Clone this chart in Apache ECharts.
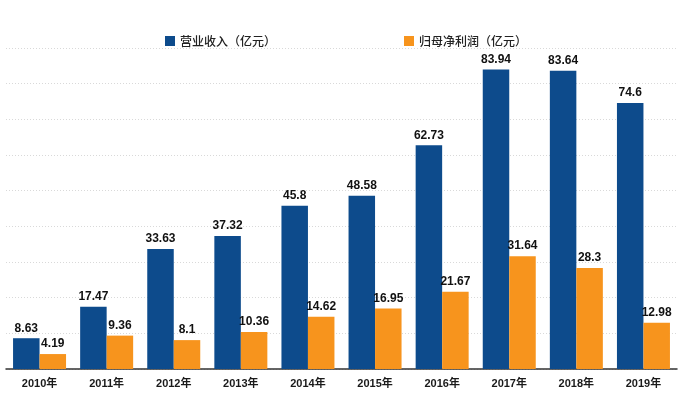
<!DOCTYPE html>
<html><head><meta charset="utf-8">
<script src="https://cdn.jsdelivr.net/npm/echarts@6/dist/echarts.min.js"></script>
<style>html,body{margin:0;padding:0;background:#fff}#c{width:688px;height:394px}</style>
</head><body><div id="c"></div>
<script>
var categories = ['2010年','2011年','2012年','2013年','2014年','2015年','2016年','2017年','2018年','2019年'];
var revenue = [8.63,17.47,33.63,37.32,45.8,48.58,62.73,83.94,83.64,74.6];
var netProfit = [4.19,9.36,8.1,10.36,14.62,16.95,21.67,31.64,28.3,12.98];
var seriesNames = ['营业收入（亿元）','归母净利润（亿元）'];
var fontStack = 'Liberation Sans, "Noto Sans CJK SC", sans-serif';
var chart = echarts.init(document.getElementById('c'));
var labelStyle = {show:true, position:'top', distance:4, color:'#111', fontWeight:'bold', fontSize:12, fontFamily:fontStack};
chart.setOption({
  animation:false,
  legend:{
    left:160, top:30, itemWidth:10, itemHeight:10, itemGap:128,
    icon:'rect',
    textStyle:{fontSize:12, color:'#222', fontWeight:500, fontFamily:'"Noto Sans CJK SC", sans-serif'},
    data:seriesNames
  },
  grid:{left:6, right:11, top:48, bottom:25, containLabel:false},
  xAxis:{
    type:'category', data:categories,
    axisLine:{lineStyle:{color:'#333', width:1.5}},
    axisTick:{show:false},
    axisLabel:{color:'#1a1a1a', fontWeight:'bold', fontSize:11, margin:9, fontFamily:fontStack}
  },
  yAxis:{
    type:'value', min:0, max:90, interval:10,
    axisLine:{show:false}, axisTick:{show:false}, axisLabel:{show:false},
    splitLine:{lineStyle:{color:'#d9d9d9', type:[1,2], width:1}}
  },
  series:[
    {name:seriesNames[0], type:'bar', data:revenue, barWidth:26.5, barGap:'0%', itemStyle:{color:'#0d4b8c'}, label:labelStyle},
    {name:seriesNames[1], type:'bar', data:netProfit, barWidth:26.5, barGap:'0%', itemStyle:{color:'#f7941d'}, label:labelStyle}
  ]
});
</script></body></html>
